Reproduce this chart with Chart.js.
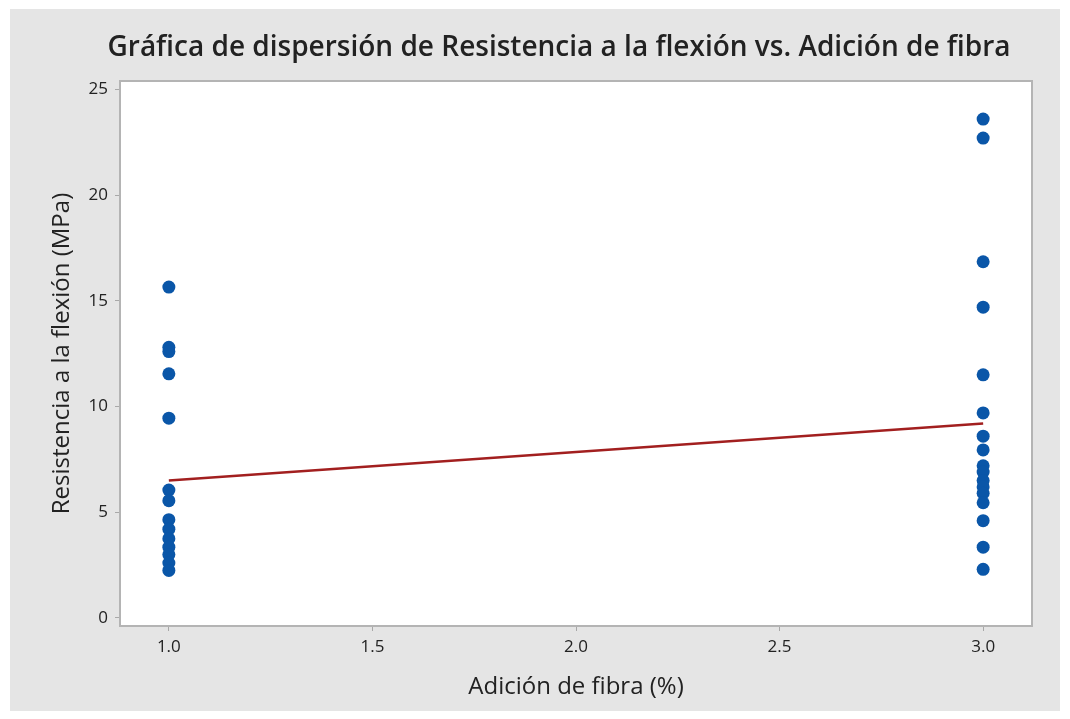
<!DOCTYPE html>
<html lang="es">
<head>
  <meta charset="UTF-8">
  <title>Resistencia a la flexión vs. Adición de fibra</title>
  <script src="https://cdn.jsdelivr.net/npm/chart.js"></script>
  <style>
    body {
      margin: 0;
      background: #fff;
    }
    canvas {
      display: block;
    }
  </style>
</head>
<body>
  <canvas id="scatterChart" width="1070" height="719"></canvas>

  <script>
    // fibre addition levels (%) and measured flexural strength (MPa)
    const fiberLevels = [1.0, 3.0];
    const strengthAt1 = [15.65, 12.8, 12.6, 11.55, 9.45, 6.05, 5.55, 4.65, 4.2, 3.75, 3.35, 3.0, 2.6, 2.25];
    const strengthAt3 = [23.6, 22.7, 16.85, 14.7, 11.5, 9.7, 8.6, 7.95, 7.2, 6.9, 6.5, 6.2, 5.9, 5.45, 4.6, 3.35, 2.3];
    // fitted line values at each fibre level
    const fitValues = [6.5, 9.2];

    const xTicks = [1.0, 1.5, 2.0, 2.5, 3.0];
    const yTicks = [0, 5, 10, 15, 20, 25];

    const points = [
      ...strengthAt1.map(v => ({ x: fiberLevels[0], y: v })),
      ...strengthAt3.map(v => ({ x: fiberLevels[1], y: v }))
    ];
    const fitLine = fiberLevels.map((x, i) => ({ x: x, y: fitValues[i] }));

    const fontFamily = "'Open Sans', 'Noto Sans', sans-serif";

    // grey panel behind everything, white plot area with a frame
    const panelPlugin = {
      id: 'panel',
      beforeDraw(chart) {
        const { ctx, chartArea: a } = chart;
        ctx.save();
        ctx.fillStyle = '#ffffff';
        ctx.fillRect(0, 0, chart.width, chart.height);
        ctx.fillStyle = '#e5e5e5';
        ctx.fillRect(10, 9, 1050, 702);
        ctx.fillStyle = '#ffffff';
        ctx.fillRect(a.left, a.top, a.right - a.left, a.bottom - a.top);
        ctx.restore();
      },
      afterDatasetsDraw(chart) {
        const { ctx, chartArea: a } = chart;
        ctx.save();
        ctx.strokeStyle = '#b4b4b4';
        ctx.lineWidth = 2;
        ctx.strokeRect(a.left, a.top, a.right - a.left, a.bottom - a.top);
        ctx.restore();
      }
    };

    const ctx = document.getElementById('scatterChart').getContext('2d');
    const chart = new Chart(ctx, {
      type: 'scatter',
      data: {
        datasets: [
          {
            label: 'Resistencia',
            data: points,
            backgroundColor: '#0a56a8',
            borderWidth: 0,
            pointRadius: 6.5,
            order: 2
          },
          {
            type: 'line',
            label: 'Ajuste',
            data: fitLine,
            borderColor: '#a21f1f',
            borderWidth: 2.5,
            pointRadius: 0,
            fill: false,
            order: 1
          }
        ]
      },
      options: {
        responsive: false,
        animation: false,
        layout: {
          padding: { left: 48, right: 0, top: 0, bottom: 0 }
        },
        plugins: {
          legend: { display: false },
          tooltip: { enabled: false },
          title: {
            display: true,
            text: 'Gráfica de dispersión de Resistencia a la flexión vs. Adición de fibra',
            color: '#222',
            font: { family: fontFamily, size: 28, weight: '600', lineHeight: 1.2 },
            padding: { top: 31.2, bottom: 16.2 }
          }
        },
        scales: {
          x: {
            type: 'linear',
            min: 0.88,
            max: 3.12,
            afterBuildTicks: s => { s.ticks = xTicks.map(v => ({ value: v })); },
            afterFit: s => { s.height = 93; },
            ticks: {
              color: '#222',
              font: { family: fontFamily, size: 17 },
              padding: 6,
              callback: v => v.toFixed(1)
            },
            grid: { drawOnChartArea: false, drawTicks: true, tickLength: 5, color: '#a8a8a8' },
            border: { display: false },
            title: {
              display: true,
              text: 'Adición de fibra (%)',
              color: '#222',
              font: { family: fontFamily, size: 24, lineHeight: 1.2 },
              padding: { top: 0, bottom: 17 }
            }
          },
          y: {
            type: 'linear',
            min: -0.38,
            max: 25.4,
            afterBuildTicks: s => { s.ticks = yTicks.map(v => ({ value: v })); },
            afterFit: s => { s.width = 72; },
            ticks: {
              color: '#222',
              font: { family: fontFamily, size: 17 },
              padding: 7
            },
            grid: { drawOnChartArea: false, drawTicks: true, tickLength: 5, color: '#a8a8a8' },
            border: { display: false },
            title: {
              display: true,
              text: 'Resistencia a la flexión (MPa)',
              color: '#222',
              font: { family: fontFamily, size: 24, lineHeight: 1.2 },
              padding: { top: 0, bottom: 0 }
            }
          },
          // empty right-hand axis that keeps the margin beside the plot
          yRight: {
            position: 'right',
            display: true,
            ticks: { display: false },
            grid: { display: false },
            border: { display: false },
            afterFit: s => { s.width = 38; }
          }
        }
      },
      plugins: [panelPlugin]
    });
  </script>
</body>
</html>
